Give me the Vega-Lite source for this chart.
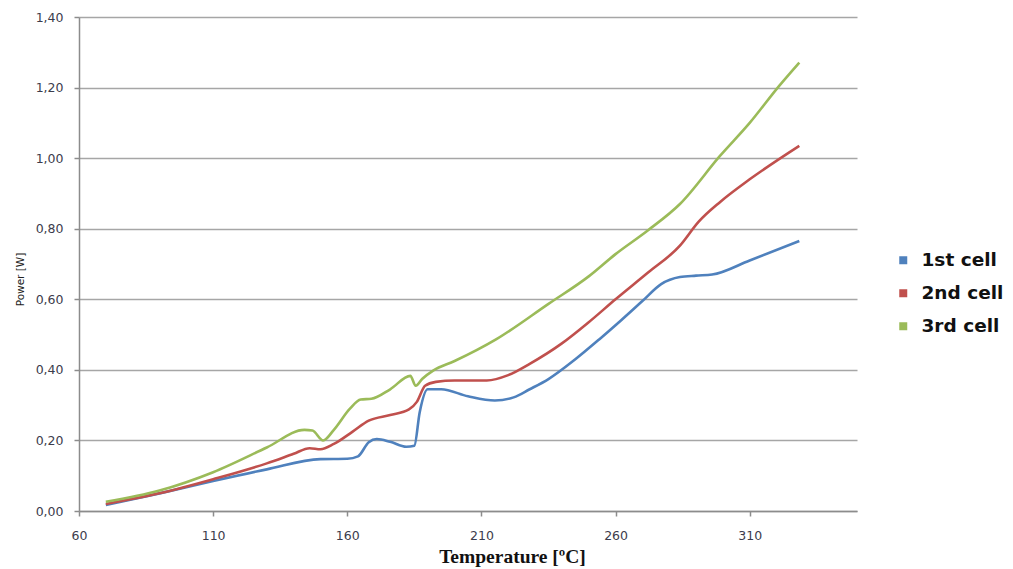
{
  "$schema": "https://vega.github.io/schema/vega-lite/v6.json",
  "width": 778,
  "height": 494,
  "autosize": "none",
  "padding": {"left": 79, "top": 17, "right": 156, "bottom": 58},
  "background": "white",
  "data": {"values": [
    {"series": "1st cell", "temp": 70, "power": 0.017},
    {"series": "1st cell", "temp": 90, "power": 0.05},
    {"series": "1st cell", "temp": 110, "power": 0.085},
    {"series": "1st cell", "temp": 130, "power": 0.118},
    {"series": "1st cell", "temp": 150, "power": 0.147},
    {"series": "1st cell", "temp": 160, "power": 0.148},
    {"series": "1st cell", "temp": 164, "power": 0.155},
    {"series": "1st cell", "temp": 168, "power": 0.195},
    {"series": "1st cell", "temp": 171, "power": 0.204},
    {"series": "1st cell", "temp": 176, "power": 0.196},
    {"series": "1st cell", "temp": 182, "power": 0.182},
    {"series": "1st cell", "temp": 185, "power": 0.185},
    {"series": "1st cell", "temp": 187, "power": 0.28},
    {"series": "1st cell", "temp": 190, "power": 0.345},
    {"series": "1st cell", "temp": 195, "power": 0.345},
    {"series": "1st cell", "temp": 205, "power": 0.325},
    {"series": "1st cell", "temp": 215, "power": 0.313},
    {"series": "1st cell", "temp": 222, "power": 0.322},
    {"series": "1st cell", "temp": 228, "power": 0.345},
    {"series": "1st cell", "temp": 235, "power": 0.374},
    {"series": "1st cell", "temp": 245, "power": 0.43},
    {"series": "1st cell", "temp": 254, "power": 0.487},
    {"series": "1st cell", "temp": 262, "power": 0.54},
    {"series": "1st cell", "temp": 270, "power": 0.595},
    {"series": "1st cell", "temp": 277, "power": 0.643},
    {"series": "1st cell", "temp": 284, "power": 0.663},
    {"series": "1st cell", "temp": 290, "power": 0.667},
    {"series": "1st cell", "temp": 296, "power": 0.67},
    {"series": "1st cell", "temp": 310, "power": 0.71},
    {"series": "1st cell", "temp": 328.5, "power": 0.765},
    {"series": "2nd cell", "temp": 70, "power": 0.02},
    {"series": "2nd cell", "temp": 90, "power": 0.05},
    {"series": "2nd cell", "temp": 110, "power": 0.09},
    {"series": "2nd cell", "temp": 130, "power": 0.135},
    {"series": "2nd cell", "temp": 140, "power": 0.162},
    {"series": "2nd cell", "temp": 146, "power": 0.178},
    {"series": "2nd cell", "temp": 150, "power": 0.175},
    {"series": "2nd cell", "temp": 155, "power": 0.19},
    {"series": "2nd cell", "temp": 162, "power": 0.225},
    {"series": "2nd cell", "temp": 168, "power": 0.256},
    {"series": "2nd cell", "temp": 176, "power": 0.272},
    {"series": "2nd cell", "temp": 183, "power": 0.288},
    {"series": "2nd cell", "temp": 186, "power": 0.31},
    {"series": "2nd cell", "temp": 189, "power": 0.355},
    {"series": "2nd cell", "temp": 193, "power": 0.366},
    {"series": "2nd cell", "temp": 200, "power": 0.37},
    {"series": "2nd cell", "temp": 212, "power": 0.37},
    {"series": "2nd cell", "temp": 220, "power": 0.385},
    {"series": "2nd cell", "temp": 228, "power": 0.417},
    {"series": "2nd cell", "temp": 240, "power": 0.475},
    {"series": "2nd cell", "temp": 250, "power": 0.535},
    {"series": "2nd cell", "temp": 260, "power": 0.6},
    {"series": "2nd cell", "temp": 272, "power": 0.675},
    {"series": "2nd cell", "temp": 284, "power": 0.752},
    {"series": "2nd cell", "temp": 291, "power": 0.82},
    {"series": "2nd cell", "temp": 299, "power": 0.876},
    {"series": "2nd cell", "temp": 310, "power": 0.94},
    {"series": "2nd cell", "temp": 328.5, "power": 1.035},
    {"series": "3rd cell", "temp": 70, "power": 0.026},
    {"series": "3rd cell", "temp": 90, "power": 0.058},
    {"series": "3rd cell", "temp": 110, "power": 0.11},
    {"series": "3rd cell", "temp": 130, "power": 0.18},
    {"series": "3rd cell", "temp": 144, "power": 0.23},
    {"series": "3rd cell", "temp": 147, "power": 0.228},
    {"series": "3rd cell", "temp": 151, "power": 0.2},
    {"series": "3rd cell", "temp": 155, "power": 0.23},
    {"series": "3rd cell", "temp": 161, "power": 0.29},
    {"series": "3rd cell", "temp": 165, "power": 0.316},
    {"series": "3rd cell", "temp": 169, "power": 0.318},
    {"series": "3rd cell", "temp": 176, "power": 0.345},
    {"series": "3rd cell", "temp": 183.5, "power": 0.383},
    {"series": "3rd cell", "temp": 185.5, "power": 0.355},
    {"series": "3rd cell", "temp": 188, "power": 0.375},
    {"series": "3rd cell", "temp": 192, "power": 0.398},
    {"series": "3rd cell", "temp": 200, "power": 0.425},
    {"series": "3rd cell", "temp": 215.6, "power": 0.487},
    {"series": "3rd cell", "temp": 235, "power": 0.587},
    {"series": "3rd cell", "temp": 250, "power": 0.665},
    {"series": "3rd cell", "temp": 260, "power": 0.728},
    {"series": "3rd cell", "temp": 272, "power": 0.795},
    {"series": "3rd cell", "temp": 284, "power": 0.87},
    {"series": "3rd cell", "temp": 299, "power": 1.007},
    {"series": "3rd cell", "temp": 310, "power": 1.1},
    {"series": "3rd cell", "temp": 321, "power": 1.205},
    {"series": "3rd cell", "temp": 328.5, "power": 1.271}
  ]},
  "mark": {"type": "line", "interpolate": "monotone", "strokeWidth": 2.6},
  "encoding": {
    "x": {
      "field": "temp", "type": "quantitative",
      "scale": {"domain": [60, 350], "nice": false, "zero": false},
      "axis": {
        "values": [60, 110, 160, 210, 260, 310],
        "title": "Temperature [ºC]",
        "grid": false,
        "labelFlush": false,
        "titleFont": "Liberation Serif", "titleFontSize": 19.5, "titleFontWeight": "bold", "titleColor": "#111111",
        "titleX": 433, "titleY": 45, "titleAnchor": null, "titleAlign": "center", "titleBaseline": "middle",
        "labelPadding": 13
      }
    },
    "y": {
      "field": "power", "type": "quantitative",
      "scale": {"domain": [0, 1.4], "nice": false},
      "axis": {
        "values": [0, 0.2, 0.4, 0.6, 0.8, 1.0, 1.2, 1.4],
        "labelExpr": "replace(format(datum.value, '.2f'), '.', ',')",
        "title": "Power [W]",
        "grid": true,
        "labelFlush": false,
        "titleFont": "DejaVu Sans", "titleFontSize": 10.5, "titleFontWeight": "normal", "titleColor": "#222222",
        "titleX": -59, "titleY": 262, "titleAlign": "center", "titleBaseline": "middle", "titleAngle": -90,
        "labelPadding": 11
      }
    },
    "color": {
      "field": "series", "type": "nominal",
      "scale": {"domain": ["1st cell", "2nd cell", "3rd cell"], "range": ["#4f81bd", "#c0504d", "#9bbb59"]},
      "legend": {
        "title": null,
        "orient": "none", "legendX": 815, "legendY": 234,
        "symbolType": "square", "symbolSize": 16, "symbolStrokeWidth": 4,
        "labelFont": "DejaVu Sans", "labelFontSize": 18.5, "labelFontWeight": "bold", "labelColor": "#111111",
        "labelOffset": 9, "rowPadding": 12
      }
    }
  },
  "config": {
    "view": {"stroke": null},
    "axis": {
      "domainColor": "#8c8c8c", "domainWidth": 1.5,
      "tickColor": "#8c8c8c", "tickWidth": 1.5, "tickSize": 5,
      "gridColor": "#a6a6a6", "gridWidth": 1.5,
      "labelFont": "DejaVu Sans", "labelFontSize": 12.5, "labelColor": "#3c3c4c"
    }
  }
}
